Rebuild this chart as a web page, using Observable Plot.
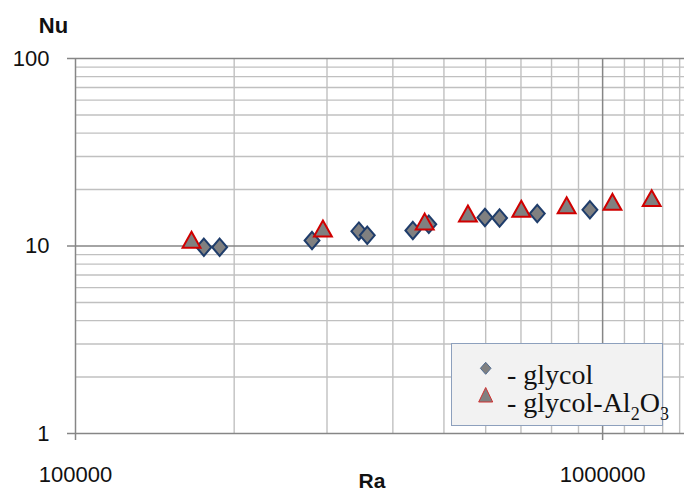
<!DOCTYPE html>
<html><head><meta charset="utf-8">
<script src="https://cdn.jsdelivr.net/npm/d3@7"></script>
<script src="https://cdn.jsdelivr.net/npm/@observablehq/plot@0.6"></script>
<style>
body{margin:0;background:#fff;}
#wrap{position:relative;width:684px;height:491px;overflow:hidden;}
#legend{position:absolute;left:440px;top:335px;overflow:visible;}
</style></head><body><div id="wrap"></div>
<script>
// data
const glycolRa = [175200, 187700, 281000, 344800, 357700, 436500, 468000, 598000, 637600, 751700, 946000];
const glycolNu = [9.85, 9.85, 10.7, 12.0, 11.4, 12.1, 13.05, 14.2, 14.1, 14.9, 15.6];
const nanoRa = [166000, 294700, 459700, 555200, 701000, 854600, 1044000, 1239000];
const nanoNu = [10.8, 12.4, 13.5, 14.9, 15.8, 16.5, 17.2, 18.0];
const seriesNames = ["glycol", "glycol-Al2O3"];
// ticks
const xMajorTicks = [100000, 1000000];
const xMinorTicks = [200000, 300000, 400000, 500000, 600000, 700000, 800000, 900000, 1100000, 1200000, 1300000, 1400000];
const yMajorTicks = [1, 10, 100];
const yMinorTicks = [2, 3, 4, 5, 6, 7, 8, 9, 20, 30, 40, 50, 60, 70, 80, 90];
const xLabel = "Ra", yLabel = "Nu";

const glycol = glycolRa.map((x, i) => ({x, y: glycolNu[i]}));
const nano = nanoRa.map((x, i) => ({x, y: nanoNu[i]}));

const diamondSym = {draw(ctx, size) {
  const s = Math.sqrt(size), hx = s * 0.6, hy = s * 0.7;
  ctx.moveTo(0, -hy); ctx.lineTo(hx, 0); ctx.lineTo(0, hy); ctx.lineTo(-hx, 0); ctx.closePath();
}};
const triSym = {draw(ctx, size) {
  const s = Math.sqrt(size), hw = s * 0.72, hh = s * 0.64;
  ctx.moveTo(0, -hh); ctx.lineTo(hw, hh); ctx.lineTo(-hw, hh); ctx.closePath();
}};

const minorC = "#c0c0c0", majorC = "#868686";
const plot = Plot.plot({
  width: 684, height: 491,
  marginLeft: 75, marginRight: 0, marginTop: 58, marginBottom: 58,
  style: {fontFamily: "'Liberation Sans', Arial, sans-serif", background: "white", overflow: "visible"},
  x: {type: "log", domain: [100000, 1430000]},
  y: {type: "log", domain: [1, 100]},
  marks: [
    Plot.ruleX(xMinorTicks, {stroke: minorC, strokeWidth: 1.4}),
    Plot.ruleY(yMinorTicks, {stroke: minorC, strokeWidth: 1.4}),
    Plot.ruleX(xMajorTicks, {stroke: majorC, strokeWidth: 1.5}),
    Plot.ruleY(yMajorTicks, {stroke: majorC, strokeWidth: 1.5}),
    Plot.axisX({ticks: xMajorTicks, tickSize: 7, tickPadding: 26, stroke: majorC, strokeWidth: 1.5, fill: "#111", fontSize: 22, tickFormat: d => String(d), label: null}),
    Plot.axisY({ticks: yMajorTicks, tickSize: 8, tickPadding: 18, stroke: majorC, strokeWidth: 1.5, fill: "#111", fontSize: 22, tickFormat: d => String(d), label: null}),
    Plot.text([yLabel], {frameAnchor: "top-left", dx: -22, dy: -33, fontWeight: "bold", fontSize: 22, textAnchor: "middle", lineAnchor: "middle", fill: "#111"}),
    Plot.text([xLabel], {frameAnchor: "bottom", dx: -8, dy: 48, fontWeight: "bold", fontSize: 21, textAnchor: "middle", lineAnchor: "middle", fill: "#111"}),
    Plot.dot(glycol, {x: "x", y: "y", symbol: diamondSym, r: 7, fill: "#808080", stroke: "#1f3d6b", strokeWidth: 2, fillOpacity: 1}),
    Plot.dot(nano, {x: "x", y: "y", symbol: triSym, r: 7, fill: "#808080", stroke: "#d00000", strokeWidth: 2, fillOpacity: 1})
  ]
});
const wrap = document.getElementById("wrap");
wrap.appendChild(plot);

// legend overlay
const lg = d3.select(wrap).append("svg").attr("id", "legend").attr("width", 244).attr("height", 100);
lg.append("rect").attr("x", 11.5).attr("y", 8.5).attr("width", 211).attr("height", 82)
  .attr("fill", "#f2f2f2").attr("stroke", "#8da0bd").attr("stroke-width", 1);
lg.append("path").attr("d", "M45.7,27.3L51,33.3L45.7,39.3L40.4,33.3Z").attr("fill", "#808080").attr("stroke", "#4f6a8f").attr("stroke-width", 1);
lg.append("path").attr("d", "M45.7,52.5L52.7,67L38.7,67Z").attr("fill", "#808080").attr("stroke", "#d03030").attr("stroke-width", 1);
const tf = "'Liberation Serif', 'Times New Roman', serif";
lg.append("text").attr("x", 67).attr("y", 49).attr("font-family", tf).attr("font-size", 28).attr("fill", "#111").text("- " + seriesNames[0]);
const t2 = lg.append("text").attr("x", 67).attr("y", 77).attr("font-family", tf).attr("font-size", 28).attr("fill", "#111");
t2.append("tspan").text("- glycol-Al");
t2.append("tspan").attr("font-size", 18).attr("dy", 8).text("2");
t2.append("tspan").attr("dy", -8).text("O");
t2.append("tspan").attr("font-size", 18).attr("dy", 8).text("3");
</script></body></html>
